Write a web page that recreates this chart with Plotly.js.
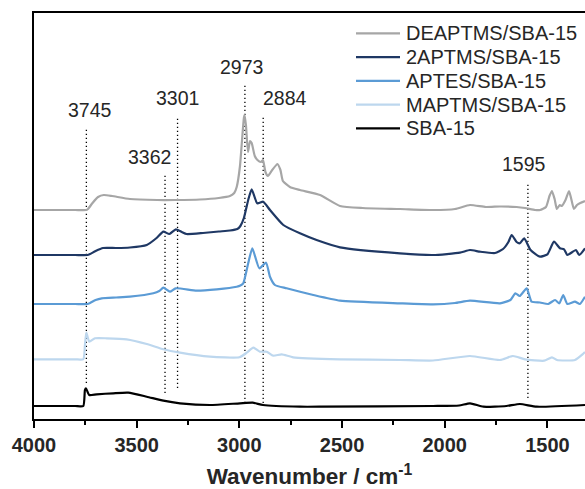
<!DOCTYPE html>
<html>
<head>
<meta charset="utf-8">
<script src="https://cdn.plot.ly/plotly-3.0.1.min.js"></script>
<style>
  html, body { margin: 0; padding: 0; background: #fff; }
  #chart { width: 585px; height: 489px; }
</style>
</head>
<body>
<div id="chart"></div>
<script>
// ---------- DATA ----------
const seriesNames = ['DEAPTMS/SBA-15', '2APTMS/SBA-15', 'APTES/SBA-15', 'MAPTMS/SBA-15', 'SBA-15'];

const wnDEAPTMS = [4000,3800,3745,3737,3715,3688,3660,3620,3533,3400,3313,3192,3100,3046,3025,3013,2997,2987,2978,2975,2968,2958,2948,2940,2925,2912,2895,2885,2873,2861,2840,2815,2800,2788,2754,2705,2607,2510,2400,2218,2057,1950,1877,1800,1731,1650,1609,1560,1536,1507,1490,1478,1465,1454,1440,1430,1412,1395,1385,1371,1356,1340,1317];
const absDEAPTMS = [2.09,2.09,2.09,2.10,2.16,2.22,2.24,2.23,2.20,2.19,2.19,2.195,2.21,2.23,2.26,2.32,2.53,2.79,3.01,3.04,2.94,2.67,2.78,2.76,2.63,2.59,2.57,2.59,2.47,2.43,2.49,2.55,2.49,2.38,2.32,2.29,2.24,2.13,2.11,2.10,2.09,2.10,2.14,2.12,2.125,2.12,2.11,2.09,2.09,2.12,2.23,2.28,2.20,2.10,2.14,2.13,2.19,2.28,2.21,2.10,2.14,2.16,2.18];

const wn2APTMS = [4000,3800,3740,3727,3700,3664,3600,3533,3451,3403,3370,3341,3309,3280,3257,3177,3100,3046,3010,2995,2978,2957,2940,2913,2884,2851,2786,2705,2624,2510,2218,2057,1926,1877,1828,1755,1716,1690,1674,1650,1634,1613,1582,1536,1500,1468,1439,1419,1403,1361,1345,1317];
const abs2APTMS = [1.64,1.64,1.64,1.65,1.68,1.71,1.71,1.715,1.74,1.81,1.873,1.85,1.897,1.87,1.85,1.86,1.875,1.885,1.90,1.93,2.01,2.19,2.297,2.157,2.173,2.09,1.94,1.857,1.79,1.717,1.657,1.64,1.663,1.69,1.673,1.66,1.70,1.77,1.84,1.77,1.757,1.807,1.69,1.623,1.647,1.773,1.707,1.697,1.64,1.69,1.64,1.707];

const wnAPTES = [4000,3800,3740,3727,3700,3670,3600,3533,3419,3390,3370,3338,3310,3208,3110,3013,2995,2981,2957,2937,2903,2870,2851,2827,2770,2640,2510,2218,2057,1950,1877,1731,1680,1656,1635,1601,1577,1536,1496,1463,1442,1423,1403,1366,1342,1317];
const absAPTES = [1.15,1.15,1.15,1.16,1.19,1.207,1.215,1.223,1.257,1.28,1.313,1.273,1.307,1.283,1.297,1.323,1.335,1.357,1.557,1.707,1.507,1.563,1.423,1.34,1.307,1.24,1.183,1.157,1.147,1.16,1.183,1.157,1.19,1.257,1.23,1.307,1.173,1.165,1.15,1.19,1.157,1.24,1.15,1.173,1.15,1.223];

const wnMAPTMS = [4000,3800,3760,3752,3745,3731,3703,3646,3549,3451,3370,3289,3143,3000,2964,2932,2900,2867,2835,2794,2738,2510,2218,2057,1877,1731,1668,1609,1516,1478,1454,1366,1327,1317];
const absMAPTMS = [0.597,0.597,0.597,0.74,0.863,0.773,0.807,0.807,0.797,0.75,0.697,0.663,0.623,0.617,0.663,0.713,0.673,0.673,0.633,0.647,0.617,0.597,0.59,0.585,0.63,0.59,0.63,0.597,0.583,0.617,0.59,0.59,0.65,0.67];

const wnSBA = [4000,3800,3760,3752,3747,3731,3695,3614,3541,3451,3370,3289,3143,2997,2935,2885,2705,2600,2057,1930,1877,1812,1700,1634,1552,1317];
const absSBA = [0.13,0.13,0.13,0.29,0.307,0.24,0.247,0.257,0.263,0.223,0.183,0.157,0.14,0.157,0.163,0.14,0.123,0.123,0.13,0.135,0.157,0.123,0.13,0.15,0.123,0.14];

const peakWavenumbers = [3745, 3362, 3301, 2973, 2884, 1595];
const peakLabels = ['3745', '3362', '3301', '2973', '2884', '1595'];
const peakTop = [2.91, 2.44, 3.03, 3.34, 3.03, 2.37];
const peakBottom = [0.36, 0.26, 0.31, 0.16, 0.16, 0.21];

// ---------- STYLE ----------
const FONT = 'Arial, "Liberation Sans", sans-serif';
const TEXT = '#262626';
const colors = ['#a6a6a6', '#1f3864', '#5b9bd5', '#bdd7ee', '#000000'];
const xs = [wnDEAPTMS, wn2APTMS, wnAPTES, wnMAPTMS, wnSBA];
const ys = [absDEAPTMS, abs2APTMS, absAPTES, absMAPTMS, absSBA];
const labelShift = [4, -16, 0, -3, 22, -4];

const traces = [];
// dotted peak markers
const dx = [], dy = [];
peakWavenumbers.forEach((w, i) => { dx.push(w, w, null); dy.push(peakBottom[i], peakTop[i], null); });
traces.push({ x: dx, y: dy, mode: 'lines', line: { color: '#000', width: 1.3, dash: '1.3px,2.7px' }, showlegend: false, hoverinfo: 'skip' });

for (let i = seriesNames.length - 1; i >= 0; i--) {
  traces.push({
    x: xs[i], y: ys[i], name: seriesNames[i], mode: 'lines',
    line: { color: colors[i], width: 2.2, shape: 'spline', smoothing: 0.5 },
    showlegend: false
  });
}

const annotations = peakLabels.map((t, i) => ({
  x: peakWavenumbers[i], y: peakTop[i], xref: 'x', yref: 'y', text: t, showarrow: false,
  xanchor: 'center', yanchor: 'middle', yshift: 18, xshift: labelShift[i],
  font: { family: FONT, size: 19.5, color: TEXT }
}));

// manual legend
const W = 551, H = 406;
const shapes = [];
seriesNames.forEach((n, i) => {
  const py = 33.3 + i * 23.75;
  const yp = (419 - py) / H;
  shapes.push({ type: 'line', xref: 'paper', yref: 'paper', x0: (356 - 34) / W, x1: (400 - 34) / W, y0: yp, y1: yp, line: { color: colors[i], width: 2.2 } });
  annotations.push({ xref: 'paper', yref: 'paper', x: (404 - 34) / W, y: yp, text: n, showarrow: false, xanchor: 'left', yanchor: 'middle', font: { family: FONT, size: 20, color: TEXT } });
});

const layout = {
  width: 585, height: 489,
  margin: { l: 34, r: 0, t: 13, b: 70 },
  paper_bgcolor: '#fff', plot_bgcolor: '#fff',
  showlegend: false,
  font: { family: FONT, color: TEXT },
  xaxis: {
    range: [4000, 1317], autorange: false,
    tick0: 0, dtick: 500,
    ticks: 'outside', ticklen: 7, tickwidth: 2, tickcolor: '#000',
    minor: { dtick: 250, ticks: 'outside', ticklen: 4, tickwidth: 2, tickcolor: '#000' },
    showline: true, linewidth: 2, linecolor: '#000', mirror: true,
    showgrid: false, zeroline: false,
    tickfont: { family: FONT, size: 20, color: TEXT, weight: 'bold' },
    title: { text: '<b>Wavenumber / cm<sup>-1</sup></b>', font: { family: FONT, size: 22.5, color: TEXT }, standoff: 21 },
    automargin: false
  },
  yaxis: {
    range: [0, 4.06], autorange: false,
    showticklabels: false, ticks: '',
    showline: true, linewidth: 2, linecolor: '#000', mirror: false,
    showgrid: false, zeroline: false
  },
  shapes: shapes,
  annotations: annotations
};

Plotly.newPlot('chart', traces, layout, { displayModeBar: false, staticPlot: true });
</script>
</body>
</html>
